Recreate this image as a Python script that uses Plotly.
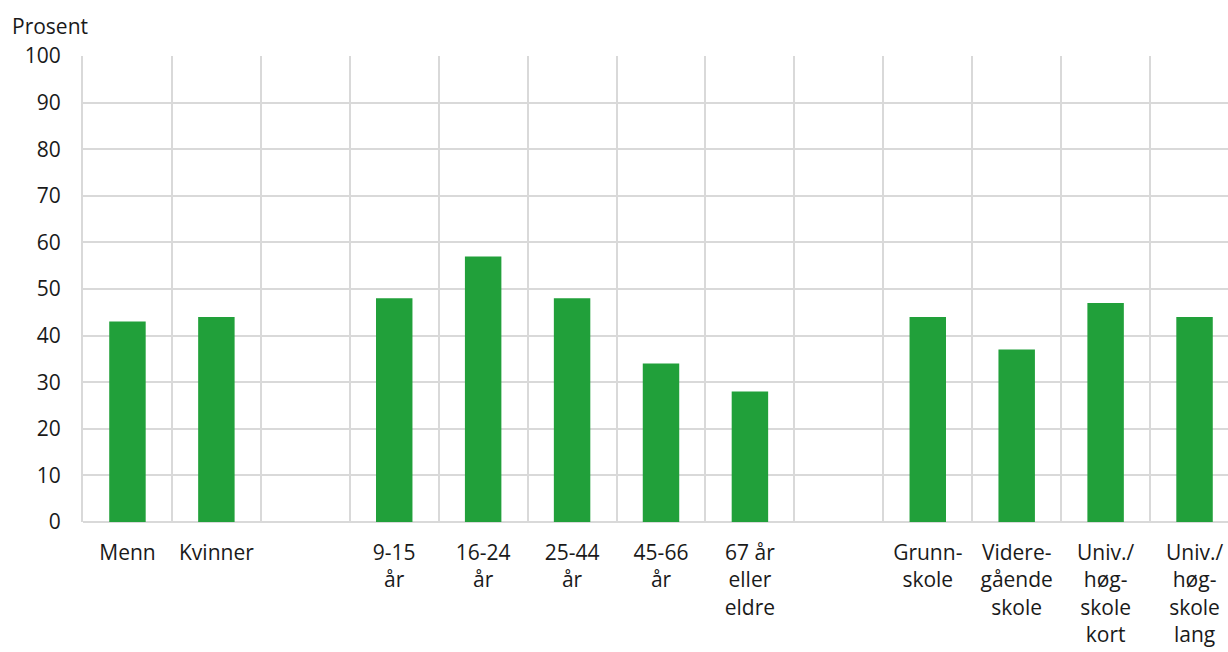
import plotly.graph_objects as go

categories = ["Menn", "Kvinner", " ", "9-15<br>år", "16-24<br>år", "25-44<br>år",
              "45-66<br>år", "67 år<br>eller<br>eldre", "  ", "Grunn-<br>skole",
              "Videre-<br>gående<br>skole", "Univ./<br>høg-<br>skole<br>kort",
              "Univ./<br>høg-<br>skole<br>lang"]
values = [43, 44, None, 48, 57, 48, 34, 28, None, 44, 37, 47, 44]
y_ticks = [0, 10, 20, 30, 40, 50, 60, 70, 80, 90, 100]

FONT = dict(family="Open Sans", size=21, color="#1a1a1a")
GRID = "#d9d9d9"

fig = go.Figure(go.Bar(x=categories, y=values, marker_color="#21A03A",
                       marker_line_width=0, width=0.41))

fig.update_layout(
    width=1240, height=652,
    margin=dict(l=83, r=1, t=56, b=130, autoexpand=False),
    paper_bgcolor="white", plot_bgcolor="white",
    font=FONT, showlegend=False,
    annotations=[dict(text="Prosent", xref="paper", yref="paper", x=-83/1156, y=1,
                      xanchor="left", yanchor="bottom", yshift=14, xshift=10,
                      showarrow=False, font=FONT)],
)
fig.update_xaxes(type="category", tickson="boundaries", showgrid=True, gridcolor=GRID,
                 gridwidth=2, ticks="", tickfont=FONT, zeroline=False, showline=False,
                 tickangle=0, range=[-0.5, 12.5], automargin=False, ticklabelstandoff=16)
fig.update_yaxes(range=[0, 100], tickvals=y_ticks, showgrid=True, gridcolor=GRID,
                 gridwidth=2, ticks="", tickfont=FONT, zeroline=True, zerolinecolor=GRID,
                 zerolinewidth=2, showline=True, linecolor=GRID, linewidth=2,
                 ticklabelstandoff=16, automargin=False)

fig.write_html("out.html",
               config={"displayModeBar": False},
               post_script="document.body.style.margin='0';"
                           "document.documentElement.style.overflow='hidden';"
                           "document.body.style.overflow='hidden';")
